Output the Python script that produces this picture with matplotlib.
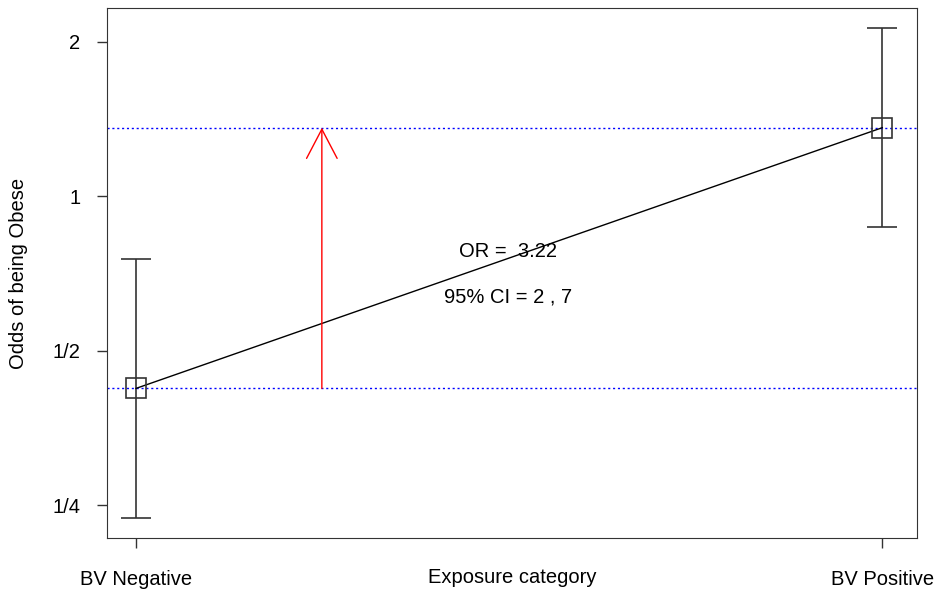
import numpy as np
import matplotlib.pyplot as plt

plt.rcParams['font.family'] = ['Liberation Sans', 'DejaVu Sans']

# odds of being obese by exposure group, with 95% CI
groups = ['BV Negative', 'BV Positive']
odds = [0.422, 1.36]
ci_low = [0.236, 0.87]
ci_high = [0.754, 2.125]
yticks = [0.25, 0.5, 1, 2]
ytick_labels = ['1/4', '1/2', '1', '2']
or_text = 'OR =  3.22'
ci_text = '95% CI = 2 , 7'

x = np.arange(len(groups))
fig = plt.figure(figsize=(9.38, 5.9), dpi=100)
ax = fig.add_axes([0.114, 0.088, 0.864, 0.898])
ax.set_yscale('log', base=2)

yerr = [np.array(odds) - np.array(ci_low), np.array(ci_high) - np.array(odds)]
ax.errorbar(x, odds, yerr=yerr, fmt='none', ecolor='#333333', elinewidth=1.2,
            capsize=11, capthick=1.2)
ax.plot(x, odds, color='black', lw=1, zorder=3)
ax.plot(x, odds, 's', ms=14, mfc='none', mec='#333333', mew=1.2, zorder=4)

for v in odds:
    ax.axhline(v, color='blue', ls=(0, (1.5, 2)), lw=1)

ax.annotate('', xy=(0.249, odds[1]), xytext=(0.249, odds[0]),
            arrowprops=dict(arrowstyle='->,head_length=2.1,head_width=1.1', color='red',
                            lw=1, shrinkA=0, shrinkB=0))

ax.text(0.499, 0.78, or_text, ha='center', va='center', fontsize=14.5)
ax.text(0.499, 0.635, ci_text, ha='center', va='center', fontsize=14.5)

ax.set_xlim(-0.039, 1.047)
ax.set_ylim(2 ** -2.214, 2 ** 1.217)
ax.set_xticks(x)
ax.set_xticklabels(groups)
ax.set_yticks(yticks)
ax.set_yticklabels(ytick_labels)
ax.minorticks_off()
ax.tick_params(labelsize=14.5, length=7, width=1, color='#333333')
ax.tick_params(axis='x', pad=16)
ax.tick_params(axis='y', pad=12)
ax.set_ylabel('Odds of being Obese', fontsize=14.5)
ax.yaxis.set_label_coords(-0.0975, 0.5)
ax.text(0.5, -0.0736, 'Exposure category', transform=ax.transAxes, ha='center',
        va='center', fontsize=14.5)
for s in ax.spines.values():
    s.set_color('#333333')

fig.savefig('out.png')
